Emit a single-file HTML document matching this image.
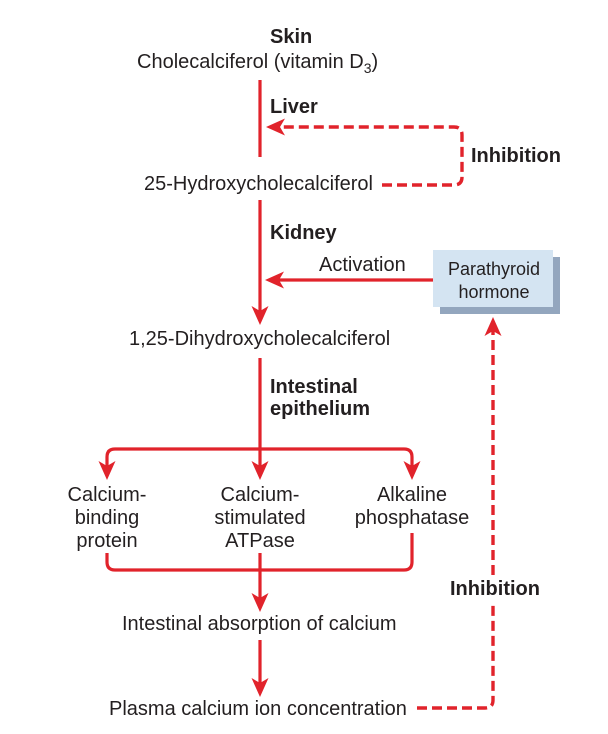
<!DOCTYPE html>
<html>
<head>
<meta charset="utf-8">
<style>
html,body{margin:0;padding:0;background:#fff;}
svg{display:block;}
text{font-family:"Liberation Sans",Arial,sans-serif;fill:#231f20;font-size:20px;}
.b{font-weight:bold;}
</style>
</head>
<body>
<svg width="608" height="734" viewBox="0 0 608 734" xmlns="http://www.w3.org/2000/svg">
<defs>
<g id="ah"><path d="M0,0 L-19,-8.5 L-14,0 L-19,8.5 Z" fill="#e1232b"/></g>
</defs>

<!-- Texts -->
<text x="270" y="43" class="b">Skin</text>
<text x="137" y="68">Cholecalciferol (vitamin D<tspan font-size="14" dy="5">3</tspan><tspan dy="-5">)</tspan></text>
<text x="270" y="113" class="b">Liver</text>
<text x="471" y="162" class="b">Inhibition</text>
<text x="144" y="190">25-Hydroxycholecalciferol</text>
<text x="270" y="239" class="b">Kidney</text>
<text x="319" y="271">Activation</text>
<text x="129" y="345">1,25-Dihydroxycholecalciferol</text>
<text x="270" y="393" class="b">Intestinal</text>
<text x="270" y="415" class="b">epithelium</text>

<text x="107" y="501" text-anchor="middle">Calcium-</text>
<text x="107" y="524" text-anchor="middle">binding</text>
<text x="107" y="547" text-anchor="middle">protein</text>
<text x="260" y="501" text-anchor="middle">Calcium-</text>
<text x="260" y="524" text-anchor="middle">stimulated</text>
<text x="260" y="547" text-anchor="middle">ATPase</text>
<text x="412" y="501" text-anchor="middle">Alkaline</text>
<text x="412" y="524" text-anchor="middle">phosphatase</text>

<text x="122" y="630">Intestinal absorption of calcium</text>
<text x="109" y="715">Plasma calcium ion concentration</text>
<text x="450" y="595" class="b">Inhibition</text>

<!-- PTH box -->
<rect x="440" y="257" width="120" height="57" fill="#93a6be"/>
<rect x="433" y="250" width="120" height="57" fill="#d4e4f2"/>
<text x="494" y="275" text-anchor="middle" style="font-size:18px">Parathyroid</text>
<text x="494" y="298" text-anchor="middle" style="font-size:18px">hormone</text>

<!-- Solid lines -->
<g stroke="#e1232b" stroke-width="3.2" fill="none">
  <line x1="260" y1="80" x2="260" y2="157"/>
  <line x1="260" y1="200" x2="260" y2="312"/>
  <line x1="433" y1="280" x2="278" y2="280"/>
  <line x1="260" y1="358" x2="260" y2="468"/>
  <path d="M107,468 L107,457 Q107,449 115,449 L404,449 Q412,449 412,457 L412,468"/>
  <path d="M107,553 L107,562 Q107,570 115,570 L404,570 Q412,570 412,562 L412,533"/>
  <line x1="260" y1="553" x2="260" y2="600"/>
  <line x1="260" y1="640" x2="260" y2="685"/>
</g>

<!-- Dashed lines -->
<g stroke="#e1232b" stroke-width="3.4" fill="none" stroke-dasharray="10,5">
  <path d="M382,185 L454,185 Q462,185 462,177 L462,135 Q462,127 454,127 L280,127"/>
  <path d="M417,708 L485,708 Q493,708 493,700 L493,603"/>
  <path d="M493,575 L493,330"/>
</g>

<!-- Arrowheads -->
<use href="#ah" transform="translate(260,325) rotate(90)"/>
<use href="#ah" transform="translate(265,280) rotate(180)"/>
<use href="#ah" transform="translate(266,127) rotate(180)"/>
<use href="#ah" transform="translate(107,480) rotate(90)"/>
<use href="#ah" transform="translate(260,480) rotate(90)"/>
<use href="#ah" transform="translate(412,480) rotate(90)"/>
<use href="#ah" transform="translate(260,612) rotate(90)"/>
<use href="#ah" transform="translate(260,697) rotate(90)"/>
<use href="#ah" transform="translate(493,317) rotate(-90)"/>
</svg>
</body>
</html>
